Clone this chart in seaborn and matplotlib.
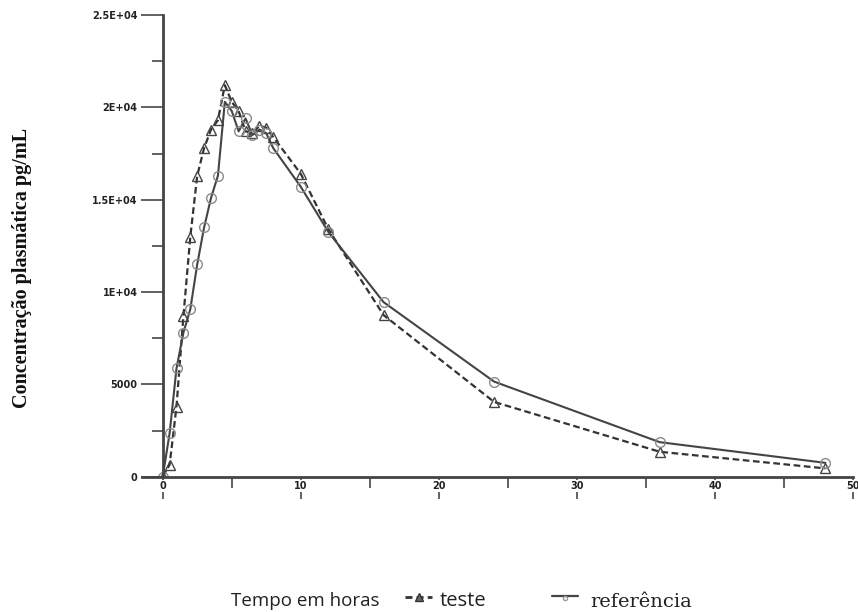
import matplotlib
matplotlib.use("Agg")
import matplotlib.pyplot as plt
import seaborn as sns
from matplotlib.ticker import MultipleLocator
from matplotlib.lines import Line2D

# --- data ---
tempo = [0, 0.5, 1, 1.5, 2, 2.5, 3, 3.5, 4, 4.5, 5, 5.5, 6, 6.5, 7, 7.5, 8, 10, 12, 16, 24, 36, 48]
teste = [0, 650, 3800, 8700, 13000, 16300, 17800, 18800, 19300, 21200, 20300, 19800,
         18700, 18600, 19000, 18900, 18400, 16400, 13400, 8750, 4050, 1350, 450]
referencia = [0, 2350, 5870, 7800, 9070, 11500, 13500, 15100, 16300, 20300, 19800, 18700,
              19400, 18500, 18800, 18600, 17800, 15700, 13250, 9450, 5150, 1870, 750]

yticks = [0, 5000, 10000, 15000, 20000, 25000]
ytick_labels = ["0", "5000", "1E+04", "1.5E+04", "2E+04", "2.5E+04"]
xticks = [0, 10, 20, 30, 40, 50]

sns.set_style("ticks")
dark = "#333333"
W, H = 858, 612

fig = plt.figure(figsize=(8.58, 6.12), dpi=100)
ax = fig.add_axes([142 / W, 1 - 476.7 / H, (853 - 142) / W, (476.7 - 15) / H])

sns.lineplot(x=tempo, y=teste, ax=ax, color=dark, linestyle=(0, (3, 1.6)), linewidth=1.6,
             marker="^", markersize=7, markerfacecolor="none", markeredgecolor="#444444",
             markeredgewidth=1.0)
sns.lineplot(x=tempo, y=referencia, ax=ax, color="#444444", linewidth=1.5,
             marker="o", markersize=7, markerfacecolor="none", markeredgecolor="#8a8a8a",
             markeredgewidth=1.0)

ax.set_xlim(-1.5, 50)
ax.set_ylim(0, 25000)
ax.spines["left"].set_position(("data", 0))
sns.despine(ax=ax)
for s in ("left", "bottom"):
    ax.spines[s].set_linewidth(2)
    ax.spines[s].set_color("#444444")

ax.set_xticks(xticks)
ax.set_xticklabels([str(v) for v in xticks])
ax.xaxis.set_minor_locator(MultipleLocator(5))
ax.set_yticks(yticks)
ax.set_yticklabels(ytick_labels)
ax.yaxis.set_minor_locator(MultipleLocator(2500))

ax.tick_params(which="major", length=16, width=1.3, color="#555555")
ax.tick_params(which="minor", length=8, width=1.3, color="#555555")
ax.tick_params(axis="y", which="major", pad=2)
ax.tick_params(axis="x", which="major", pad=-13)
for lab in ax.get_xticklabels() + ax.get_yticklabels():
    lab.set_fontsize(7)
    lab.set_fontweight("bold")
    lab.set_color("#222222")
for lab in ax.get_xticklabels():
    lab.set_bbox(dict(facecolor="white", edgecolor="none", pad=0.6))

ax.set_xlabel("")
ax.set_ylabel("")
fig.text(22 / W, 1 - 268 / H, "Concentração plasmática pg/mL", rotation=90,
         ha="center", va="center", fontsize=14.5, fontweight="bold",
         family="Liberation Serif", color="#111111")

# bottom caption: axis title followed by the legend entries
ybase = 1 - 601 / H
fig.text(231 / W, ybase, "Tempo em horas", ha="left", va="center",
         fontsize=13.5, family="Open Sans", color="#222222")

fig.add_artist(Line2D([405 / W, 432 / W], [ybase + 4 / H] * 2, transform=fig.transFigure,
                      color=dark, linestyle=(0, (2.5, 1.5)), linewidth=2))
fig.add_artist(Line2D([418.5 / W], [ybase + 4 / H], transform=fig.transFigure,
                      marker="^", markersize=6, color=dark, markerfacecolor="#666666"))
fig.text(440 / W, ybase, "teste", ha="left", va="center",
         fontsize=14.5, family="Open Sans", color="#222222")

fig.add_artist(Line2D([552 / W, 578 / W], [ybase + 5 / H] * 2, transform=fig.transFigure,
                      color="#444444", linewidth=1.6))
fig.add_artist(Line2D([565 / W], [ybase + 3 / H], transform=fig.transFigure,
                      marker="o", markersize=3, color="#999999", markerfacecolor="none"))
fig.text(590 / W, ybase - 1 / H, "referência", ha="left", va="center",
         fontsize=14, family="DejaVu Serif", color="#222222")

fig.savefig("out.png", dpi=100)
